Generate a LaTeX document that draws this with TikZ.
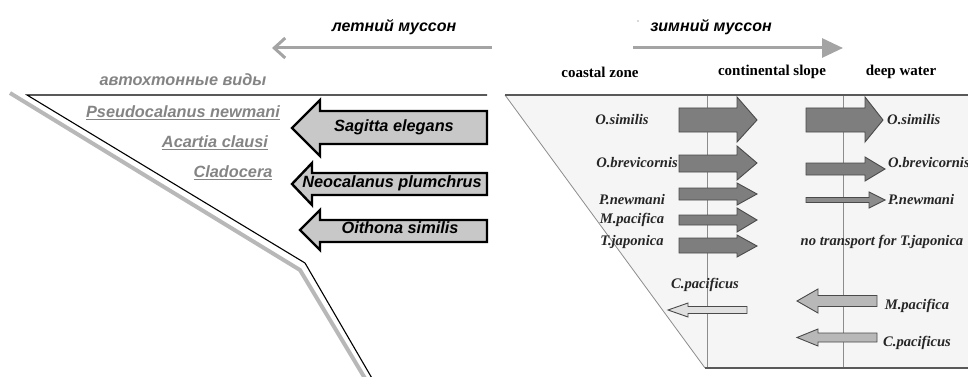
\documentclass[tikz,border=0pt]{standalone}
\usepackage{fontspec}
\setmainfont{Liberation Serif}
\newfontfamily\arialf{Liberation Sans}
\usetikzlibrary{arrows.meta}
\definecolor{monsoongray}{HTML}{A4A4A4}
\definecolor{labelgray}{HTML}{848484}
\definecolor{lightfill}{HTML}{C8C8C8}
\definecolor{darkfill}{HTML}{7E7E7E}
\definecolor{darkedge}{HTML}{4A4A4A}
\definecolor{boxfill}{HTML}{F5F5F5}
\definecolor{slopegray}{HTML}{B8B8B8}
\tikzset{
  monsoonline/.style={draw=monsoongray, line width=3pt},
  monsoontext/.style={font=\arialf\bfseries\itshape\fontsize{16}{16}\selectfont, text=black, inner sep=0pt},
  graylabel/.style={font=\arialf\bfseries\itshape\fontsize{16.3}{16.3}\selectfont, text=labelgray, inner sep=0pt},
  bigarrow/.style={draw=black, line width=2.4pt, fill=lightfill, line join=miter},
  bigtext/.style={font=\arialf\bfseries\itshape\fontsize{16.3}{16.3}\selectfont, text=black, inner sep=0pt},
  darkarrow/.style={draw=darkedge, line width=0.9pt, fill=darkfill, line join=miter},
  thinarrow/.style={draw=darkedge, line width=0.9pt, fill=#1, line join=miter},
  serlabel/.style={font=\bfseries\itshape\fontsize{14.6}{14.6}\selectfont, text=black!85, inner sep=0pt},
  heading/.style={font=\bfseries\fontsize{15}{15}\selectfont, text=black, inner sep=0pt},
}
\begin{document}
\begin{tikzpicture}[x=1pt,y=-1pt]
\useasboundingbox (0,0) rectangle (968,377);
\clip (0,0) rectangle (968,377);
% ---------- left panel ----------
\node[monsoontext] (summer) at (394,27) {летний муссон};
\coordinate (sumR) at (492,48);
\coordinate (sumL) at (272,48);
\draw[monsoonline, -{Straight Barb[length=11pt,width=20pt]}] (sumR) -- (sumL);
\node[graylabel] (autoch) at (183,80) {автохтонные виды};
% coast lines
\draw[slopegray, line width=4pt, line join=miter] (10,93) -- (300,270) -- (366,380);
\draw[black, line width=1.1pt] (487,95) -- (27,95) -- (305,263) -- (373,380);
\node[graylabel] (pseudo) at (183,113) {\underline{Pseudocalanus newmani}};
\node[graylabel] (acartia) at (215,143) {\underline{Acartia clausi}};
\node[graylabel] (clado) at (233,173) {\underline{Cladocera}};
% big arrows
\draw[bigarrow] (292,128) -- (320,100) -- (320,111) -- (487,111) -- (487,144) -- (320,144) -- (320,156) -- cycle;
\node[bigtext] (sagitta) at (394,127) {Sagitta elegans};
\draw[bigarrow] (292,184) -- (312,163) -- (312,173) -- (487,173) -- (487,195) -- (312,195) -- (312,205) -- cycle;
\node[bigtext] (neocal) at (392,183) {Neocalanus plumchrus};
\draw[bigarrow] (300,230) -- (320,210) -- (320,220) -- (487,220) -- (487,242) -- (320,242) -- (320,250) -- cycle;
\node[bigtext] (oithona) at (400,228) {Oithona similis};
% ---------- right panel ----------
\fill[black!30] (638,21) circle (0.9pt);
\node[monsoontext] (winter) at (711,27) {зимний муссон};
\coordinate (winL) at (633,48);
\coordinate (winR) at (843,48);
\draw[monsoonline, -{Triangle[length=21pt,width=19pt]}] (winL) -- (winR);
\node[heading] (coastal) at (600,72) {coastal zone};
\node[heading] (slope) at (772,72) {continental slope};
\node[heading] (deep) at (901,72) {deep water};
% box
\fill[boxfill] (505,95) -- (980,95) -- (980,368) -- (705,368) -- cycle;
\draw[black!45, line width=0.8pt] (505,95) -- (705,368);
\draw[black!45, line width=0.8pt] (707,95) -- (707,368);
\draw[black!45, line width=0.8pt] (843,95) -- (843,368);
\draw[black!65, line width=1.5pt] (505,95) -- (980,95);
\draw[black!65, line width=1.5pt] (705,368) -- (980,368);
% right-pointing arrows, coastal -> slope
\draw[darkarrow] (679,108) -- (737,108) -- (737,97) -- (757,120) -- (737,142) -- (737,132) -- (679,132) -- cycle;
\draw[darkarrow] (679,155) -- (737,155) -- (737,146) -- (757,163) -- (737,180) -- (737,172) -- (679,172) -- cycle;
\draw[darkarrow] (679,188) -- (737,188) -- (737,183) -- (757,194) -- (737,205) -- (737,200) -- (679,200) -- cycle;
\draw[darkarrow] (679,215) -- (737,215) -- (737,208) -- (757,220) -- (737,232) -- (737,225) -- (679,225) -- cycle;
\draw[darkarrow] (679,238) -- (737,238) -- (737,235) -- (757,246) -- (737,257) -- (737,253) -- (679,253) -- cycle;
% slope -> deep
\draw[darkarrow] (806,108) -- (865,108) -- (865,97) -- (883,120) -- (865,142) -- (865,132) -- (806,132) -- cycle;
\draw[darkarrow] (806,163) -- (865,163) -- (865,157) -- (885,169) -- (865,181) -- (865,175) -- (806,175) -- cycle;
\draw[thinarrow=black!45] (806,197.5) -- (869,197.5) -- (869,192) -- (885,200) -- (869,208) -- (869,202.5) -- (806,202.5) -- cycle;
% left-pointing arrows
\draw[thinarrow=black!12] (668,310) -- (688,303) -- (688,306.5) -- (747,306.5) -- (747,313.5) -- (688,313.5) -- (688,317) -- cycle;
\draw[thinarrow=black!28] (797,301) -- (818,289) -- (818,295.5) -- (877,295.5) -- (877,306.5) -- (818,306.5) -- (818,313) -- cycle;
\draw[thinarrow=black!28] (797,337.5) -- (818,329) -- (818,333) -- (877,333) -- (877,342) -- (818,342) -- (818,346) -- cycle;
% labels
\node[serlabel] (osim1) at (622,120) {O.similis};
\node[serlabel, anchor=west] (osim2) at (887,120) {O.similis};
\node[serlabel, anchor=east] (obrev1) at (678,163) {O.brevicornis};
\node[serlabel, anchor=west] (obrev2) at (888,163) {O.brevicornis};
\node[serlabel] (pnew1) at (632,200) {P.newmani};
\node[serlabel, anchor=west] (pnew2) at (888,200) {P.newmani};
\node[serlabel] (mpac1) at (632,220) {M.pacifica};
\node[serlabel] (tjap1) at (632,242) {T.japonica};
\node[serlabel] (notr) at (882,242) {no transport for T.japonica};
\node[serlabel] (cpac1) at (705,285) {C.pacificus};
\node[serlabel] (mpac2) at (917,306) {M.pacifica};
\node[serlabel] (cpac2) at (917,343) {C.pacificus};
\end{tikzpicture}
\end{document}
